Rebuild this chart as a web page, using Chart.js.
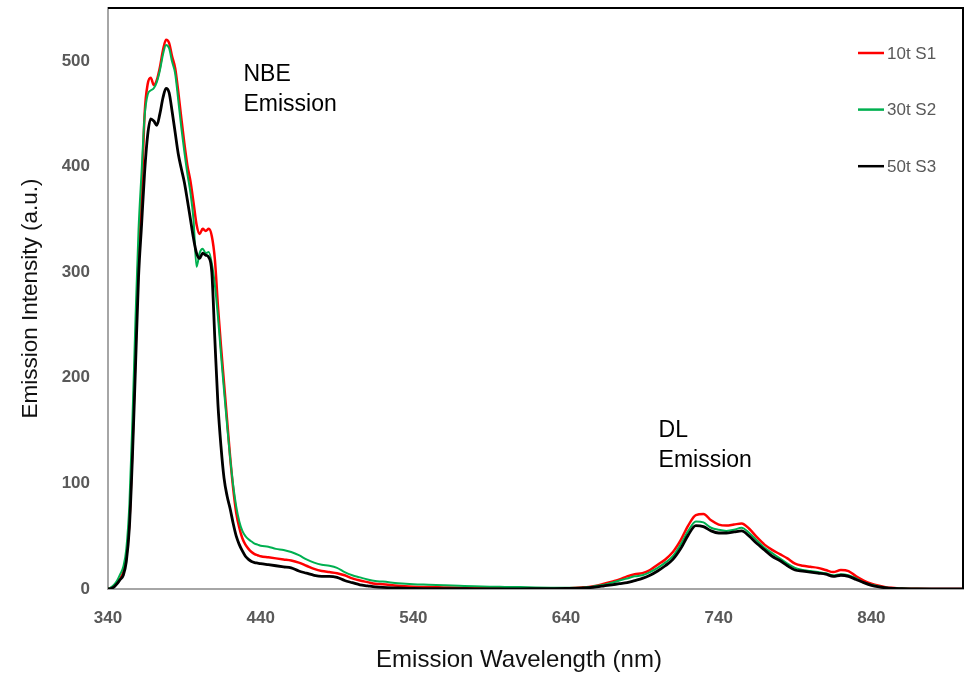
<!DOCTYPE html>
<html>
<head>
<meta charset="utf-8">
<script src="https://cdn.jsdelivr.net/npm/chart.js@4.4.1/dist/chart.umd.min.js"></script>
<style>
  body { margin: 0; background: #fff; }
  #wrap { width: 965px; height: 676px; }
</style>
</head>
<body>
<div id="wrap"><canvas id="pl-chart" width="965" height="676"></canvas></div>
<script>
// wavelength grid (nm)
const wavelengths = [
    340, 342, 344, 346, 348, 350, 352, 354, 356, 358, 360, 362, 364, 366, 368, 370, 372, 374, 376, 378,
    380, 382, 384, 386, 388, 390, 392, 394, 396, 398, 400, 402, 404, 406, 408, 410, 412, 414, 416, 418,
    420, 422, 424, 426, 428, 430, 432, 434, 436, 438, 440,
    445, 450, 455, 460, 465, 470, 475, 480, 485, 490, 495, 500, 505, 510, 515, 520,
    530, 540, 550, 560, 570, 580, 590, 600, 610, 620, 630, 640,
    650, 655, 660, 665, 670, 675, 680, 685, 690, 695, 700, 705, 710, 715, 720, 725, 730, 735, 740, 745,
    750, 755, 760, 765, 770, 775, 780, 785, 790, 795, 800, 805, 810, 815, 820, 825, 830, 835, 840, 845,
    850, 855, 860,
    870, 880, 890, 900
];

const s1 = [ // 10t S1
    0, 1, 3, 6, 10, 16, 30, 63, 135, 225, 315, 372, 450, 478, 484, 477, 482, 494, 510, 520,
    517, 504, 493, 471, 446, 422, 401, 386, 366, 345, 336, 341, 339, 341, 334, 312, 268, 230, 195, 160,
    125, 95, 72, 58, 48, 42, 38, 35, 33, 32, 31,
    30, 29, 28, 27, 25, 22, 19, 17, 16, 15, 13, 10, 8, 6.5, 5, 4.5,
    3, 2.2, 1.8, 1.5, 1.2, 1, 0.9, 0.8, 0.7, 0.6, 0.6, 0.8,
    1.5, 2, 3, 5, 7, 9, 12, 14, 15, 18, 23, 28, 35, 46, 60, 70, 71, 65, 61, 60,
    61, 62, 57, 49, 42, 37, 33, 29, 24, 22, 21, 20, 18, 16, 18, 17, 12, 8, 5, 3,
    1.5, 1, 0.5,
    0.2, 0.1, 0.05, 0
];

const s2 = [ // 30t S2
    0, 1.5, 4, 8, 14, 21, 38, 80, 160, 255, 340, 395, 448, 468, 472, 474, 480, 491, 506, 515,
    512, 499, 488, 463, 437, 414, 393, 375, 350, 305, 318, 322, 318, 319, 308, 288, 258, 222, 188, 155,
    124, 98, 78, 64, 55, 50, 47, 45, 43, 42, 41,
    40, 38, 37, 35, 32, 28, 25, 23, 22, 20, 16, 13, 11, 9, 7.5, 7,
    5.5, 4.5, 4, 3.5, 3, 2.5, 2.2, 2, 1.8, 1.5, 1.3, 1.2,
    1.2, 1.8, 3, 4, 6, 8, 10, 12, 13, 16, 20, 25, 31, 42, 55, 64, 63, 58, 56, 55,
    56, 58, 53, 46, 39, 34, 29, 24, 20, 18, 17, 16, 15, 13, 14, 13, 10, 6, 4, 2.5,
    1.2, 0.8, 0.4,
    0.2, 0.1, 0.05, 0
];

const s3 = [ // 50t S3
    0, 0.5, 2, 5, 9, 13, 26, 58, 125, 210, 295, 345, 395, 430, 445, 443, 439, 450, 465, 474,
    470, 452, 432, 412, 398, 385, 368, 350, 332, 318, 313, 318, 316, 314, 300, 236, 175, 135, 105, 88,
    76, 62, 50, 42, 36, 31, 28, 26, 25, 24.5, 24,
    23, 22, 21, 20, 17, 15, 13, 12, 12, 11, 8, 6, 4, 3, 2, 1.5,
    1, 0.5, 0.4, 0.3, 0.3, 0.2, 0.2, 0.2, 0.2, 0.3, 0.4, 0.5,
    0.8, 1.2, 2, 3, 4, 5, 6, 8, 10, 13, 17, 22, 28, 38, 51, 60, 59, 55, 53, 53,
    54, 55, 50, 43, 37, 31, 27, 22, 18, 17, 16, 15, 14, 12, 13, 12, 9, 6, 3.5, 2,
    1, 0.6, 0.3,
    0.1, 0.05, 0, 0
];

const seriesNames = ["10t S1", "30t S2", "50t S3"];
const xTicks = [340, 440, 540, 640, 740, 840];
const yTicks = [0, 100, 200, 300, 400, 500];

const toPts = arr => arr.map((v, i) => ({ x: wavelengths[i], y: v }));
const FONT = "'Liberation Sans', Arial, sans-serif";

// peak labels, in data coordinates (left edge, baseline of first line)
const notes = [
    { lines: ["NBE", "Emission"], x: 428.7, y: 481 },
    { lines: ["DL", "Emission"], x: 700.6, y: 144 }
];

const extras = {
    id: "extras",
    afterDatasetsDraw(chart) {
        const { ctx, chartArea: a, scales } = chart;
        ctx.save();
        // black frame on top and right
        ctx.strokeStyle = "#000";
        ctx.lineWidth = 2;
        ctx.beginPath();
        ctx.moveTo(a.left, a.top);
        ctx.lineTo(a.right, a.top);
        ctx.lineTo(a.right, a.bottom);
        ctx.stroke();

        // annotations
        ctx.fillStyle = "#000";
        ctx.font = "23px " + FONT;
        ctx.textBaseline = "alphabetic";
        ctx.textAlign = "left";
        notes.forEach(n => {
            const px = scales.x.getPixelForValue(n.x);
            const py = scales.y.getPixelForValue(n.y);
            n.lines.forEach((t, i) => ctx.fillText(t, px, py + i * 30));
        });

        // x axis title (sits a little left of the plot centre in the original)
        ctx.fillStyle = "#111";
        ctx.font = "24px " + FONT;
        ctx.textAlign = "center";
        ctx.textBaseline = "middle";
        ctx.fillText("Emission Wavelength (nm)", 519, 660);

        // legend
        ctx.font = "17px " + FONT;
        ctx.textAlign = "left";
        chart.data.datasets.forEach((ds, i) => {
            const y = 53 + i * 56.6;
            ctx.strokeStyle = ds.borderColor;
            ctx.lineWidth = 2.5;
            ctx.beginPath();
            ctx.moveTo(858, y);
            ctx.lineTo(884, y);
            ctx.stroke();
            ctx.fillStyle = "#595959";
            ctx.fillText(ds.label, 887, y + 1);
        });
        ctx.restore();
    }
};

new Chart(document.getElementById("pl-chart"), {
    type: "line",
    data: {
        datasets: [
            { label: seriesNames[0], data: toPts(s1), borderColor: "#ff0000", borderWidth: 2.5, order: 3 },
            { label: seriesNames[1], data: toPts(s2), borderColor: "#00b050", borderWidth: 2, order: 2 },
            { label: seriesNames[2], data: toPts(s3), borderColor: "#000000", borderWidth: 2.8, order: 1 }
        ]
    },
    options: {
        responsive: false,
        animation: false,
        events: [],
        elements: { point: { radius: 0 }, line: { cubicInterpolationMode: "monotone" } },
        layout: { padding: { top: 8, right: 2, left: 0, bottom: 0 } },
        plugins: { legend: { display: false }, tooltip: { enabled: false } },
        scales: {
            x: {
                type: "linear", min: 340, max: 900,
                afterBuildTicks: s => { s.ticks = xTicks.map(v => ({ value: v })); },
                afterFit: s => { s.height = 87; s.paddingLeft = 0; s.paddingRight = 0; },
                grid: { display: false, drawTicks: false },
                border: { color: "#a6a6a6", width: 2 },
                ticks: { color: "#595959", padding: 19, maxRotation: 0, font: { family: FONT, size: 17, weight: "bold" } }
            },
            y: {
                min: 0, max: 550,
                afterBuildTicks: s => { s.ticks = yTicks.map(v => ({ value: v })); },
                afterFit: s => { s.width = 108; s.paddingTop = 0; s.paddingBottom = 0; },
                grid: { display: false, drawTicks: false },
                border: { color: "#a6a6a6", width: 2 },
                ticks: { color: "#595959", padding: 18, font: { family: FONT, size: 17, weight: "bold" } },
                title: { display: true, text: "Emission Intensity (a.u.)", color: "#111",
                    font: { family: FONT, size: 22.5 }, padding: { top: 17, bottom: 0 } }
            }
        }
    },
    plugins: [extras]
});
</script>
</body>
</html>
